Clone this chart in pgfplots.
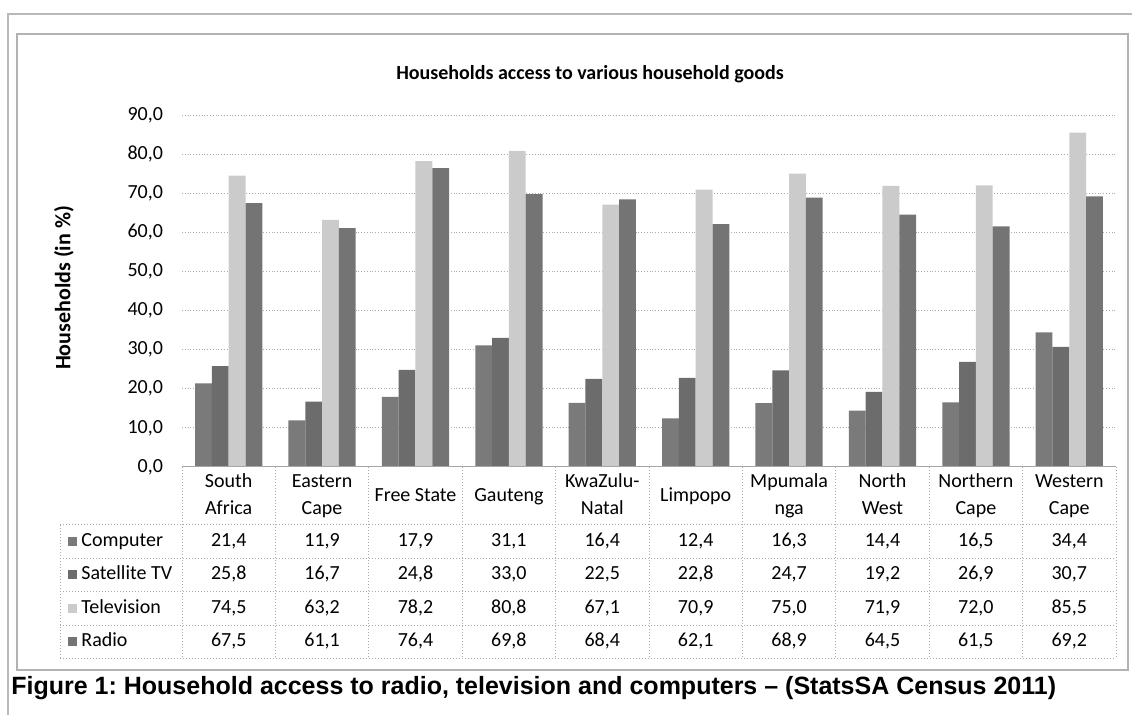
\documentclass[border=0pt]{standalone}
\usepackage{fontspec}
\setmainfont{Carlito}
\newfontfamily\arialf{Liberation Sans}
\usepackage{pgfplots}
\pgfplotsset{compat=1.18}
\usepackage{pgfplotstable}
\definecolor{cComp}{HTML}{7A7A7A}
\definecolor{cSat}{HTML}{6C6C6C}
\definecolor{cTV}{HTML}{CBCBCB}
\definecolor{cRad}{HTML}{747474}
\definecolor{gridc}{HTML}{ABABAB}
\pgfplotstableread{
x Computer Satellite Television Radio
0 21.4 25.8 74.5 67.5
1 11.9 16.7 63.2 61.1
2 17.9 24.8 78.2 76.4
3 31.1 33.0 80.8 69.8
4 16.4 22.5 67.1 68.4
5 12.4 22.8 70.9 62.1
6 16.3 24.7 75.0 68.9
7 14.4 19.2 71.9 64.5
8 16.5 26.9 72.0 61.5
9 34.4 30.7 85.5 69.2
}\data
\begin{document}
\frenchspacing
\begin{tikzpicture}[x=0.5pt,y=0.5pt]
\path[use as bounding box] (0,0) rectangle (1132,715);
% outer border
\draw[gray!55, line width=1.4pt] (8,0) -- (8,701) -- (1132,701);
% chart frame
\draw[gray!60, line width=0.7pt] (17,45) rectangle (1128,681);
% title
\node[font=\fontsize{10}{12}\selectfont\bfseries] at (590,641) {Households access to various household goods};
% y label
\node[font=\fontsize{11}{13}\selectfont\bfseries, rotate=90] at (64,427) {Households (in \%)};
% table grid
\foreach \i in {0,...,10} {
  \draw[gridc, densely dotted, line width=0.5pt] ({182+\i*93.4},248) -- ({182+\i*93.4},56);
}
\foreach \yy in {525,558.5,592,625.5,659} {
  \draw[gridc, densely dotted, line width=0.5pt] (60,715-\yy) -- (1116,715-\yy);
}
\draw[gridc, densely dotted, line width=0.5pt] (60,190) -- (60,56);
% row headers
\foreach \yy/\c/\t in {541.5/cComp/Computer, 575/cSat/Satellite TV, 608.5/cTV/Television, 642/cRad/Radio} {
  \fill[\c] (68,715-\yy-4.5) rectangle ++(9,9);
  \node[anchor=west, inner sep=0pt, text height=7pt, text depth=2pt, font=\fontsize{10}{12}\selectfont] at (81,715-\yy) {\t};
}
\begin{axis}[
  at={(91pt,124pt)}, anchor=south west,
  scale only axis, width=467pt, height=176pt,
  xmin=-0.5, xmax=9.5, ymin=0, ymax=90,
  clip=false,
  axis line style={draw=none},
  major tick length=0pt,
  ytick={0,10,...,90},
  ymajorgrids, grid style={gridc, densely dotted, line width=0.5pt},
  /pgf/number format/.cd, use comma, fixed, fixed zerofill, precision=1, assume math mode=true,
  /pgfplots/.cd,
  yticklabel style={font=\fontsize{10}{12}\selectfont, xshift=-6pt},
  xtick={0,...,9},
  xticklabels={\strut South\\\strut Africa, \strut Eastern\\\strut Cape, \strut Free State, \strut Gauteng, \strut KwaZulu-\\\strut Natal, \strut Limpopo, \strut Mpumala\\\strut nga, \strut North\\\strut West, \strut Northern\\\strut Cape, \strut Western\\\strut Cape},
  xticklabel style={font=\fontsize{10}{13.5}\selectfont, align=center, anchor=center, yshift=-14.5pt},
  nodes near coords style={anchor=center, text height=7pt, text depth=2pt, font=\fontsize{10}{12}\selectfont},
]
\addplot[ybar, bar width=0.18, bar shift=-0.27, fill=cComp, draw=none] table[x=x, y=Computer]{\data};
\addplot[ybar, bar width=0.18, bar shift=-0.09, fill=cSat, draw=none] table[x=x, y=Satellite]{\data};
\addplot[ybar, bar width=0.18, bar shift=0.09, fill=cTV, draw=none] table[x=x, y=Television]{\data};
\addplot[ybar, bar width=0.18, bar shift=0.27, fill=cRad, draw=none] table[x=x, y=Radio]{\data};
\draw[gray!70, line width=0.5pt] (axis cs:-0.5,0) -- (axis cs:9.5,0);
% table values
\addplot[draw=none, mark=none, point meta=explicit, nodes near coords] table[x=x, y expr=-19.05, meta=Computer]{\data};
\addplot[draw=none, mark=none, point meta=explicit, nodes near coords] table[x=x, y expr=-27.6, meta=Satellite]{\data};
\addplot[draw=none, mark=none, point meta=explicit, nodes near coords] table[x=x, y expr=-36.2, meta=Television]{\data};
\addplot[draw=none, mark=none, point meta=explicit, nodes near coords] table[x=x, y expr=-44.75, meta=Radio]{\data};
\end{axis}
% caption
\node[anchor=base west, inner sep=0pt, font=\arialf\fontsize{12.5}{14}\selectfont\bfseries] at (11,20) {Figure 1: Household access to radio, television and computers \textendash{} (StatsSA Census 2011)};
\end{tikzpicture}
\end{document}
